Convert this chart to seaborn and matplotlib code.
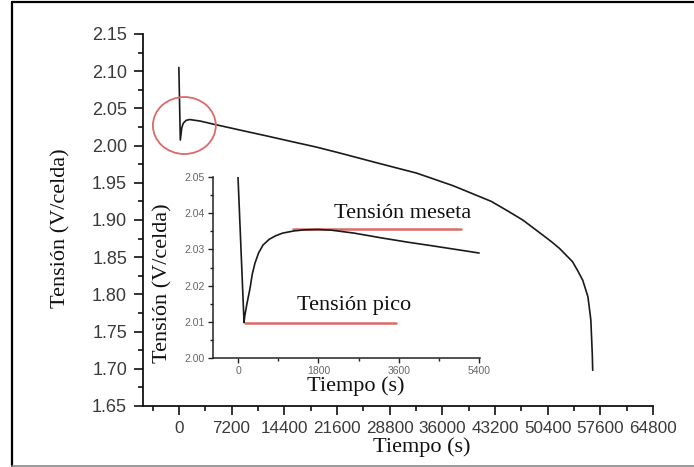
import matplotlib
matplotlib.use("Agg")
import matplotlib.pyplot as plt
import seaborn as sns
import pandas as pd
from matplotlib.patches import Ellipse
from matplotlib.lines import Line2D
from matplotlib.ticker import FixedLocator, FixedFormatter

# ---------------- data ----------------
main_time = [0, 200, 400, 600, 1000, 1500, 2900, 4650, 8300, 12000, 15600, 18800, 22000,
             27000, 32500, 37500, 42700, 44800, 47000, 49700, 50900, 52000, 53800,
             54500, 55200, 55900, 56100, 56300, 56420, 56500, 56560]
main_volt = [2.105, 2.0075, 2.024, 2.030, 2.034, 2.035, 2.033, 2.029, 2.021, 2.013, 2.005,
             1.998, 1.990, 1.977, 1.963, 1.946, 1.925, 1.913, 1.900, 1.880, 1.871, 1.862,
             1.844, 1.832, 1.819, 1.797, 1.782, 1.766, 1.739, 1.720, 1.698]

inset_time = [0, 135, 150, 200, 270, 320, 380, 460, 560, 700, 850, 1000, 1250, 1500,
              1800, 2100, 2600, 3250, 3800, 4400, 5400]
inset_volt = [2.050, 2.0098, 2.0115, 2.0150, 2.0193, 2.0232, 2.0262, 2.0290, 2.0312,
              2.0328, 2.0338, 2.0345, 2.0351, 2.0354, 2.0355, 2.0353, 2.0345, 2.0331,
              2.0320, 2.0309, 2.0290]

plateau_volt = 2.0355
plateau_span = [1240, 5000]
peak_volt = 2.0098
peak_span = [160, 3530]

main_xticks = [0, 7200, 14400, 21600, 28800, 36000, 43200, 50400, 57600, 64800]
main_xminor = [-3600, 3600, 10800, 18000, 25200, 32400, 39600, 46800, 54000, 61200]
main_yticks = [1.65, 1.70, 1.75, 1.80, 1.85, 1.90, 1.95, 2.00, 2.05, 2.10, 2.15]
main_yminor = [1.675, 1.725, 1.775, 1.825, 1.875, 1.925, 1.975, 2.025, 2.075, 2.125]
inset_xticks = [0, 1800, 3600, 5400]
inset_xminor = [900, 2700, 4500]
inset_yticks = [2.00, 2.01, 2.02, 2.03, 2.04, 2.05]
inset_yminor = [2.005, 2.015, 2.025, 2.035, 2.045]

circle_center = (750, 2.027)
circle_size = (8600, 0.0766)

xlabel = "Tiempo (s)"
ylabel = "Tensión (V/celda)"
label_meseta = "Tensión meseta"
label_pico = "Tensión pico"

main_df = pd.DataFrame({"t": main_time, "v": main_volt})
inset_df = pd.DataFrame({"t": inset_time, "v": inset_volt})
plateau_df = pd.DataFrame({"t": plateau_span, "v": [plateau_volt] * 2})
peak_df = pd.DataFrame({"t": peak_span, "v": [peak_volt] * 2})

# ---------------- style ----------------
sns.set_theme(style="ticks")
plt.rcParams["font.family"] = ["Liberation Sans", "DejaVu Sans"]

SERIF = ["Liberation Serif", "DejaVu Serif"]
RED = "#dc6a68"

fig = plt.figure(figsize=(6.94, 4.67), dpi=100)
fig.patch.set_facecolor("white")

# ---------------- main axes ----------------
ax = fig.add_axes([143 / 694, 61 / 467, 510 / 694, 372 / 467])
ax.set_facecolor("none")
sns.lineplot(data=main_df, x="t", y="v", ax=ax, color="#1a1a1a", linewidth=1.2, sort=False)
ax.set_xlim(-4900, 64800)
ax.set_ylim(1.65, 2.15)
for s in ["top", "right"]:
    ax.spines[s].set_visible(False)
for s in ["left", "bottom"]:
    ax.spines[s].set_linewidth(1.3)
    ax.spines[s].set_color("#111111")

ax.xaxis.set_major_locator(FixedLocator(main_xticks))
ax.xaxis.set_major_formatter(FixedFormatter([str(v) for v in main_xticks]))
ax.xaxis.set_minor_locator(FixedLocator(main_xminor))
ax.yaxis.set_major_locator(FixedLocator(main_yticks))
ax.yaxis.set_major_formatter(FixedFormatter([f"{v:.2f}" for v in main_yticks]))
ax.yaxis.set_minor_locator(FixedLocator(main_yminor))
ax.tick_params(which="major", direction="out", length=6.5, width=1.2, color="#111111",
               labelsize=13, labelcolor="#3a3a3a", pad=5)
ax.tick_params(axis="x", which="major", labelsize=12.3, pad=4.5)
ax.tick_params(which="minor", direction="out", length=3.5, width=1.2, color="#111111")

ax.set_xlabel(xlabel, fontsize=16, family=SERIF, color="#111111")
ax.set_ylabel(ylabel, fontsize=16, family=SERIF, color="#111111")
ax.xaxis.set_label_coords(0.547, -0.083)
ax.yaxis.set_label_coords(-0.142, 0.478)

ax.add_patch(Ellipse(circle_center, circle_size[0], circle_size[1], fill=False,
                     edgecolor=RED, linewidth=1.3, zorder=5))

# ---------------- inset axes ----------------
ins = fig.add_axes([213 / 694, 109 / 467, 267 / 694, 181 / 467])
ins.set_facecolor("none")
sns.lineplot(data=inset_df, x="t", y="v", ax=ins, color="#1a1a1a", linewidth=1.2, sort=False)
sns.lineplot(data=plateau_df, x="t", y="v", ax=ins, color=RED, linewidth=1.8, zorder=1)
sns.lineplot(data=peak_df, x="t", y="v", ax=ins, color=RED, linewidth=1.8, zorder=1)
ins.set_xlim(-560, 5420)
ins.set_ylim(2.00, 2.05)
for s in ["top", "right"]:
    ins.spines[s].set_visible(False)
for s in ["left", "bottom"]:
    ins.spines[s].set_linewidth(1.1)
    ins.spines[s].set_color("#222222")
ins.xaxis.set_major_locator(FixedLocator(inset_xticks))
ins.xaxis.set_major_formatter(FixedFormatter([str(v) for v in inset_xticks]))
ins.xaxis.set_minor_locator(FixedLocator(inset_xminor))
ins.yaxis.set_major_locator(FixedLocator(inset_yticks))
ins.yaxis.set_major_formatter(FixedFormatter([f"{v:.2f}" for v in inset_yticks]))
ins.yaxis.set_minor_locator(FixedLocator(inset_yminor))
ins.tick_params(which="major", direction="out", length=3.5, width=1.0, color="#222222",
                labelsize=7.5, labelcolor="#666666", pad=2.5)
ins.tick_params(which="minor", direction="out", length=2, width=1.0, color="#222222")
ins.set_xlabel(xlabel, fontsize=16, family=SERIF, color="#111111")
ins.set_ylabel(ylabel, fontsize=16, family=SERIF, color="#111111")
ins.xaxis.set_label_coords(0.536, -0.1)
ins.yaxis.set_label_coords(-0.15, 0.414)

ins.text(2140, 2.0387, label_meseta, fontsize=16, family=SERIF, color="#111111",
         ha="left", va="baseline")
ins.text(1330, 2.0133, label_pico, fontsize=16, family=SERIF, color="#111111",
         ha="left", va="baseline")

# ---------------- outer frame ----------------
fig.add_artist(Line2D([12 / 694, 12 / 694], [1 - 2 / 467, 1 - 466 / 467],
                      transform=fig.transFigure, color="black", linewidth=1.6))
fig.add_artist(Line2D([12 / 694, 1.0], [1 - 2 / 467, 1 - 2 / 467],
                      transform=fig.transFigure, color="black", linewidth=1.6))
fig.add_artist(Line2D([12 / 694, 1.0], [1 - 466 / 467, 1 - 466 / 467],
                      transform=fig.transFigure, color="#888888", linewidth=1.2))

fig.savefig("out.png", dpi=100)
